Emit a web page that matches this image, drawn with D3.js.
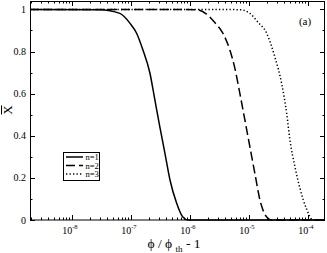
<!DOCTYPE html>
<html>
<head>
<meta charset="utf-8">
<script src="https://cdn.jsdelivr.net/npm/d3@7"></script>
<style>
  body { margin: 0; background: #fff; }
  svg { display: block; }
  text { font-family: "Liberation Serif", "DejaVu Serif", serif; fill: #000; }
</style>
</head>
<body>
<div id="chart"></div>
<script>
// values: [phi/phi_th - 1, X]
const seriesN1 = [
  [1.95e-9, 1.0], [3.0e-8, 0.999], [6.5e-8, 0.981], [9.6e-8, 0.935], [1.25e-7, 0.887],
  [1.6e-7, 0.807], [2.1e-7, 0.698], [2.55e-7, 0.57], [3.1e-7, 0.441], [3.77e-7, 0.318],
  [4.6e-7, 0.19], [5.95e-7, 0.081], [7.6e-7, 0.014], [9.25e-7, 0.0], [1.95e-4, 0.0]
];
const seriesN2 = [
  [1.95e-9, 1.0], [1.3e-6, 0.999], [1.92e-6, 0.978], [2.6e-6, 0.94], [3.62e-6, 0.887],
  [4.76e-6, 0.807], [5.79e-6, 0.72], [7.04e-6, 0.6], [8.55e-6, 0.475], [1.04e-5, 0.347],
  [1.26e-5, 0.223], [1.54e-5, 0.095], [2.0e-5, 0.014], [2.43e-5, 0.0], [1.95e-4, 0.0]
];
const seriesN3 = [
  [1.95e-9, 1.0], [7.0e-6, 0.999], [1.04e-5, 0.981], [1.42e-5, 0.94], [2.0e-5, 0.887],
  [2.76e-5, 0.773], [3.58e-5, 0.65], [4.36e-5, 0.508], [4.96e-5, 0.38], [6.03e-5, 0.253],
  [7.31e-5, 0.152], [9.5e-5, 0.052], [1.22e-4, 0.0], [1.95e-4, 0.0]
];
const legendLabels = ["n=1", "n=2", "n=3"];
const dashes = [null, "9,4", "1.3,2.2"];
const xMajor = [1e-8, 1e-7, 1e-6, 1e-5, 1e-4];
const xExponents = ["-8", "-7", "-6", "-5", "-4"];
const yMajor = [0, 0.2, 0.4, 0.6, 0.8, 1];
const yMajorLabels = ["0", "0.2", "0.4", "0.6", "0.8", "1"];
const yMinor = [0.1, 0.3, 0.5, 0.7, 0.9];

const W = 327, H = 253;
const mLeft = 30, mRight = 325, mTop = 1, mBottom = 220;

const svg = d3.select("#chart").append("svg")
  .attr("width", W).attr("height", H);

const x = d3.scaleLog().domain([1.95e-9, 1.95e-4]).range([mLeft, mRight]);
const y = d3.scaleLinear().domain([0, 1.04]).range([mBottom, mTop]);

// minor log ticks 2..9 in each decade
const xMinor = [];
for (let e = -9; e <= -4; e++) {
  for (let k = 2; k <= 9; k++) {
    const v = k * Math.pow(10, e);
    if (v > 1.95e-9 && v < 1.95e-4) xMinor.push(v);
  }
}

const ax = svg.append("g").attr("stroke", "#000").attr("stroke-width", 1);
const px = (v) => Math.round(x(v)) + 0.5;
const py = (v) => Math.round(y(v)) + 0.5;

// x ticks, bottom and top, pointing inward
xMajor.forEach((v) => {
  ax.append("line").attr("x1", px(v)).attr("x2", px(v)).attr("y1", mBottom).attr("y2", mBottom - 5);
  ax.append("line").attr("x1", px(v)).attr("x2", px(v)).attr("y1", mTop).attr("y2", mTop + 5);
});
xMinor.forEach((v) => {
  ax.append("line").attr("x1", px(v)).attr("x2", px(v)).attr("y1", mBottom).attr("y2", mBottom - 2.5);
  ax.append("line").attr("x1", px(v)).attr("x2", px(v)).attr("y1", mTop).attr("y2", mTop + 2.5);
});
// y ticks, left and right
yMajor.forEach((v) => {
  ax.append("line").attr("x1", mLeft).attr("x2", mLeft + 5).attr("y1", py(v)).attr("y2", py(v));
  ax.append("line").attr("x1", mRight).attr("x2", mRight - 5).attr("y1", py(v)).attr("y2", py(v));
});
yMinor.forEach((v) => {
  ax.append("line").attr("x1", mLeft).attr("x2", mLeft + 2.5).attr("y1", py(v)).attr("y2", py(v));
  ax.append("line").attr("x1", mRight).attr("x2", mRight - 2.5).attr("y1", py(v)).attr("y2", py(v));
});

// frame
svg.append("rect")
  .attr("x", mLeft + 0.5).attr("y", mTop + 0.5)
  .attr("width", mRight - mLeft - 1).attr("height", mBottom - mTop - 0.5)
  .attr("fill", "none").attr("stroke", "#000").attr("stroke-width", 1);

// tick labels
xMajor.forEach((v, i) => {
  const t = svg.append("text")
    .attr("x", x(v) - 2).attr("y", 234)
    .attr("text-anchor", "middle").attr("font-size", 10);
  t.append("tspan").text("10");
  t.append("tspan").attr("font-size", 6.5).attr("dy", -5).text(xExponents[i]);
});
yMajor.forEach((v, i) => {
  svg.append("text")
    .attr("x", 26).attr("y", y(v) + 3.5)
    .attr("text-anchor", "end").attr("font-size", 10)
    .text(yMajorLabels[i]);
});

// axis titles
const xt = svg.append("text")
  .attr("x", 174).attr("y", 248)
  .attr("text-anchor", "middle").attr("font-size", 13.5);
xt.append("tspan").text("\u03d5 / \u03d5 ");
xt.append("tspan").attr("font-size", 9).attr("dy", 4).text("th");
xt.append("tspan").attr("dy", -4).text(" - 1");

// X with a bar over it, rotated; the bar ends up on the left
svg.append("text")
  .attr("transform", "translate(12,110) rotate(-90)")
  .attr("text-anchor", "middle").attr("font-size", 13)
  .text("X");
svg.append("line")
  .attr("x1", 1.5).attr("x2", 1.5).attr("y1", 105.5).attr("y2", 114.5)
  .attr("stroke", "#000").attr("stroke-width", 1);

svg.append("text")
  .attr("x", 305).attr("y", 25)
  .attr("text-anchor", "middle").attr("font-size", 11)
  .text("(a)");

// curves
const line = d3.line()
  .x((d) => x(d[0]))
  .y((d) => y(d[1]))
  .curve(d3.curveMonotoneX);

const plot = svg.append("g");
[seriesN1, seriesN2, seriesN3].forEach((s, i) => {
  plot.append("path")
    .attr("d", line(s))
    .attr("fill", "none")
    .attr("stroke", "#000")
    .attr("stroke-width", 1.5)
    .attr("stroke-dasharray", dashes[i]);
});

// legend
const lg = svg.append("g");
lg.append("rect")
  .attr("x", 63.5).attr("y", 152.5).attr("width", 36).attr("height", 28)
  .attr("fill", "#fff").attr("stroke", "#000").attr("stroke-width", 1);
legendLabels.forEach((lab, i) => {
  const ly = 157 + i * 8.5;
  lg.append("line")
    .attr("x1", 66).attr("x2", 83).attr("y1", ly).attr("y2", ly)
    .attr("stroke", "#000").attr("stroke-width", 1.5)
    .attr("stroke-dasharray", dashes[i]);
  lg.append("text")
    .attr("x", 85.5).attr("y", ly + 3)
    .attr("font-size", 8.5)
    .text(lab);
});
</script>
</body>
</html>
